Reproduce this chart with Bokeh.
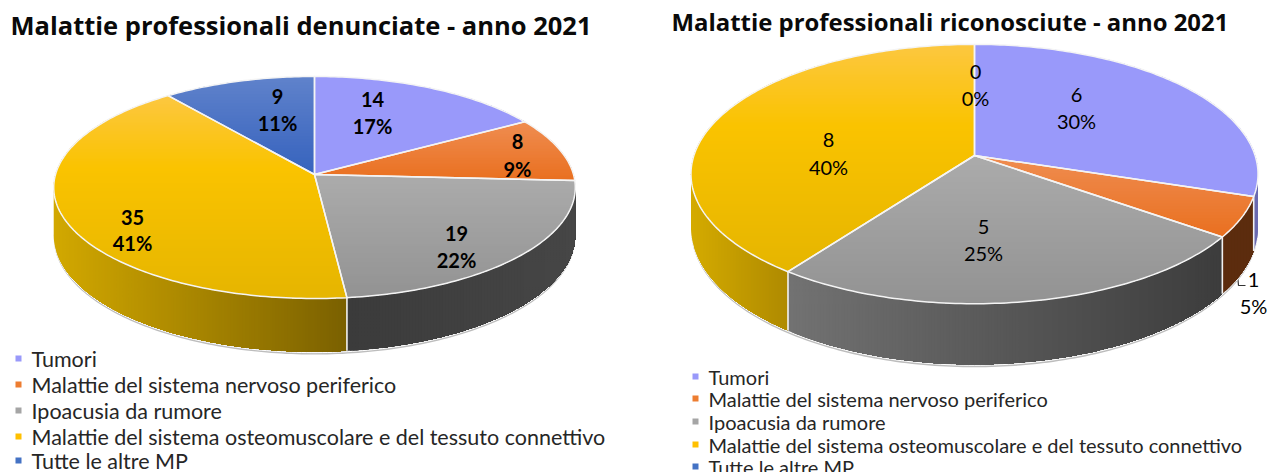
import math
from bokeh.plotting import figure
from bokeh.embed import file_html
from bokeh.resources import INLINE
from bokeh.core.properties import value

categories = ["Tumori", "Malattie del sistema nervoso periferico", "Ipoacusia da rumore",
              "Malattie del sistema osteomuscolare e del tessuto connettivo", "Tutte le altre MP"]
denunciate = [14, 8, 19, 35, 9]
riconosciute = [6, 1, 5, 8, 0]
pct_denunciate = ["17%", "9%", "22%", "41%", "11%"]
pct_riconosciute = ["30%", "5%", "25%", "40%", "0%"]
title_left = "Malattie professionali denunciate - anno 2021"
title_right = "Malattie professionali riconosciute - anno 2021"

top_stops = [
    [(0, "#9999FA"), (1, "#9999FA")],
    [(0, "#EF8C50"), (1, "#E96F1E")],
    [(0, "#ABABAB"), (1, "#929292")],
    [(0, "#FCC73F"), (0.35, "#FAC300"), (1, "#E5B500")],
    [(0, "#5F82CB"), (1, "#3562BD")],
]
legend_colors = ["#9999FA", "#ED7D31", "#A5A5A5", "#FFC000", "#4472C4"]
wall_left = [("#6A6AB0", "#6A6AB0"), ("#5C2C0E", "#5C2C0E"), ("#3B3B3B", "#464646"),
             ("#D2A800", "#7A6000"), ("#2A4A88", "#2A4A88")]
wall_right = [("#6A6AB0", "#6A6AB0"), ("#5C2C0E", "#5C2C0E"), ("#727272", "#3C3C3C"),
              ("#D4AA00", "#AE8A00"), ("#2A4A88", "#2A4A88")]


def hex2rgb(h):
    return [int(h[i:i + 2], 16) for i in (1, 3, 5)]


def color_at(stops, t):
    for (a, ca), (b, cb) in zip(stops, stops[1:]):
        if t <= b or b == stops[-1][0]:
            f = 0 if b == a else min(1, max(0, (t - a) / (b - a)))
            x, y = hex2rgb(ca), hex2rgb(cb)
            return "#%02X%02X%02X" % tuple(round(x[i] + (y[i] - x[i]) * f) for i in range(3))
    return stops[-1][1]


def clip(poly, axis, limit):
    out = []
    n = len(poly)
    for i in range(n):
        a, b = poly[i], poly[(i + 1) % n]
        ina, inb = a[axis] >= limit, b[axis] >= limit
        if ina:
            out.append(a)
        if ina != inb:
            f = (limit - a[axis]) / (b[axis] - a[axis])
            out.append((a[0] + (b[0] - a[0]) * f, a[1] + (b[1] - a[1]) * f))
    return out


def graded(poly, axis, stops, step):
    lo = min(q[axis] for q in poly)
    hi = max(q[axis] for q in poly)
    xs, ys, cs = [], [], []
    v = lo
    while v < hi:
        part = clip(poly, axis, v) if v > lo else poly
        if len(part) >= 3:
            xs.append([q[0] for q in part])
            ys.append([q[1] for q in part])
            cs.append(color_at(stops, (v - lo) / max(hi - lo, 1e-6)))
        v += step
    return xs, ys, cs


p = figure(width=1267, height=472, x_range=(0, 1267), y_range=(472, 0), output_backend="svg",
           toolbar_location=None, min_border=0, background_fill_color="white", outline_line_color=None)
p.xaxis.visible = False
p.yaxis.visible = False
p.grid.visible = False


def txt(x, y, s, size, font="Lato", weight="normal", align="center", color="#000000"):
    p.text([x], [y], text=[s], text_font=value(font), text_font_size=size, text_font_style=weight,
           text_align=align, text_baseline="middle", text_color=color)


def draw_pie(vals, cx, cy, R, Ry, k, depth, walls):
    def pt(th, d=0.0):
        u, v = math.sin(th), math.cos(th)
        w = 1 / (1 + k * v)
        return (cx + R * u * w, cy - Ry * v * w + d * w)

    def arc(a, b, d=0.0):
        n = max(2, int(abs(b - a) / math.radians(1)) + 2)
        return [pt(a + (b - a) * i / (n - 1), d) for i in range(n)]

    total = sum(vals)
    bounds = [0.0]
    for v in vals:
        bounds.append(bounds[-1] + 2 * math.pi * v / total)
    sil = math.asin(k)
    w0, w1 = math.pi / 2 + sil, 3 * math.pi / 2 - sil

    # soft shadow under the rim
    sh = arc(w0, w1, depth + 2.5) + arc(w1, w0, depth - 3)
    p.patch([q[0] for q in sh], [q[1] for q in sh], fill_color="#BDBDBD", line_color=None)
    rim = arc(w0, w1, depth + 0.8)
    p.line([q[0] for q in rim], [q[1] for q in rim], line_color="white", line_width=1)

    for i in range(len(vals)):
        a, b = max(bounds[i], w0), min(bounds[i + 1], w1)
        if b <= a:
            continue
        poly = arc(a, b) + arc(b, a, depth)
        xs, ys, cs = graded(poly, 0, [(0, walls[i][0]), (1, walls[i][1])], 3)
        p.patches(xs, ys, fill_color=cs, line_color=None)
    for th in bounds:
        if w0 <= th <= w1:
            q0, q1 = pt(th), pt(th, depth)
            p.line([q0[0], q1[0]], [q0[1], q1[1]], line_color="#F2F2F2", line_width=1.6)

    for i in range(len(vals)):
        if vals[i] == 0:
            continue
        poly = [(cx, cy)] + arc(bounds[i], bounds[i + 1])
        xs, ys, cs = graded(poly, 1, top_stops[i], 3)
        p.patches(xs, ys, fill_color=cs, line_color=None)
    for i in range(len(vals)):
        if vals[i] == 0:
            continue
        poly = [(cx, cy)] + arc(bounds[i], bounds[i + 1])
        p.patch([q[0] for q in poly], [q[1] for q in poly], fill_color=None, line_color="#F4F4F4",
                line_width=1.5, line_join="round")


draw_pie(denunciate, 314, 174, 259, 109.5, 0.117, 47, wall_left)
# label of the small orange slice sits behind the wall, with its leader stub
p.line([1237, 1238, 1245], [274, 285, 285], line_color="#333333", line_width=1.2)
draw_pie(riconosciute, 974, 155, 280.6, 127, 0.143, 52, wall_right)

txt(10, 24, title_left, "25.5px", "Open Sans", "bold", "left", "#0A0A0A")
txt(671, 21, title_right, "23.9px", "Open Sans", "bold", "left", "#0A0A0A")

pos_left = [(372, 99, 125), (517, 141, 168), (456, 233, 259), (132, 217, 242), (277, 96, 122)]
pos_right = [(1076, 94, 120), (1253, 279, 305), (983, 226, 252), (828, 139, 166), (975, 71, 97)]
for v, pc, (x, y1, y2) in zip(denunciate, pct_denunciate, pos_left):
    txt(x, y1, str(v), "20px", "Lato", "bold")
    txt(x, y2, pc, "20px", "Lato", "bold")
for v, pc, (x, y1, y2) in zip(riconosciute, pct_riconosciute, pos_right):
    txt(x, y1, str(v), "20px", "Lato", "normal")
    txt(x, y2, pc, "20px", "Lato", "normal")

leg_left_y = [358, 384, 410, 436, 460]
leg_right_y = [376, 398, 421, 444, 466]
for c, s, y in zip(legend_colors, categories, leg_left_y):
    p.scatter([18], [y], marker="square", size=6, fill_color=c, line_color=None)
    txt(31, y, s, "21.5px", "Lato", "normal", "left", "#262626")
for c, s, y in zip(legend_colors, categories, leg_right_y):
    p.scatter([695], [y], marker="square", size=6, fill_color=c, line_color=None)
    txt(708, y, s, "20px", "Lato", "normal", "left", "#262626")

open("out.html", "w").write(file_html(p, INLINE))
